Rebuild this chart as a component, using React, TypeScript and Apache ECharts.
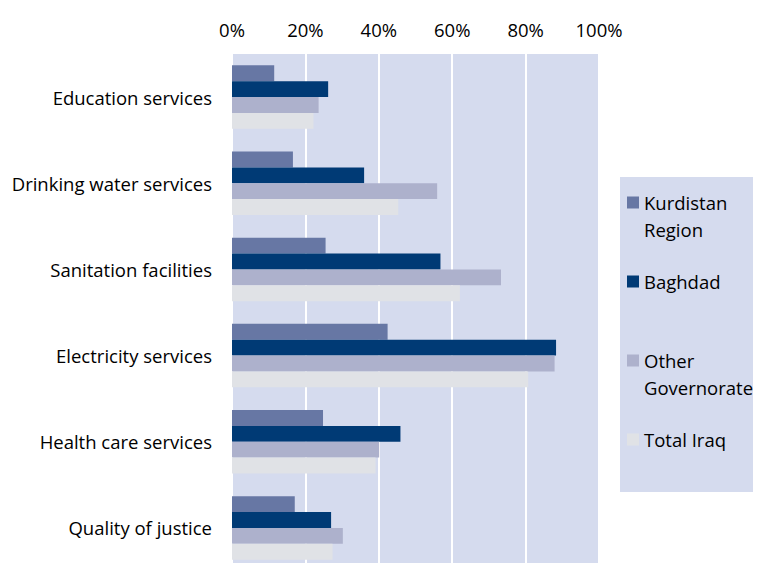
import React, { useEffect, useRef } from "react";
import * as echarts from "echarts";

const categories = [
  "Education services",
  "Drinking water services",
  "Sanitation facilities",
  "Electricity services",
  "Health care services",
  "Quality of justice",
];
const seriesNames = ["Kurdistan Region", "Baghdad", "Other Governorates", "Total Iraq"];
const kurdistan = [11.5, 16.6, 25.5, 42.4, 24.8, 17.1];
const baghdad = [26.2, 36.0, 56.8, 88.3, 45.9, 27.0];
const otherGov = [23.6, 55.9, 73.3, 87.9, 40.1, 30.2];
const totalIraq = [22.2, 45.3, 62.1, 80.7, 39.1, 27.4];
const colors = ["#6777A4", "#003A75", "#ADB1CC", "#E0E2E6"];
const xTicks = [0, 20, 40, 60, 80, 100];

const FONT = "Open Sans";
const FS = 18.5;

export default function App() {
  const ref = useRef<HTMLDivElement>(null);
  useEffect(() => {
    if (!ref.current) return;
    const chart = echarts.init(ref.current, undefined, { renderer: "svg" });
    const values = [kurdistan, baghdad, otherGov, totalIraq];
    chart.setOption({
      animation: false,
      textStyle: { fontFamily: FONT },
      grid: {
        left: 232,
        right: 162,
        top: 54,
        bottom: -5,
        show: true,
        backgroundColor: "#D5DBEE",
        borderWidth: 0,
      },
      graphic: [
        {
          type: "rect",
          shape: { x: 620, y: 177, width: 160, height: 315 },
          style: { fill: "#D5DBEE" },
          z: -1,
        },
      ],
      legend: {
        orient: "vertical",
        left: 622,
        top: 157,
        itemWidth: 12,
        itemHeight: 12,
        itemGap: 25,
        icon: "rect",
        textStyle: { fontFamily: FONT, fontSize: FS, color: "#000", lineHeight: 27 },
        formatter: (n: string) =>
          n === "Total Iraq" || !n.includes(" ") ? n : "\n" + n.replace(" ", "\n"),
        data: seriesNames,
      },
      xAxis: {
        type: "value",
        position: "top",
        min: xTicks[0],
        max: xTicks[xTicks.length - 1],
        interval: 20,
        axisLine: { show: false },
        axisTick: { show: false },
        axisLabel: {
          formatter: "{value}%",
          fontSize: FS,
          color: "#000",
          fontFamily: FONT,
          margin: 15,
        },
        splitLine: { show: true, lineStyle: { color: "#FFFFFF", width: 2 } },
      },
      yAxis: {
        type: "category",
        data: categories,
        inverse: true,
        axisLine: { show: false },
        axisTick: { show: false },
        axisLabel: { fontSize: FS, color: "#000", fontFamily: FONT, margin: 20 },
      },
      series: seriesNames.map((n, i) => ({
        name: n,
        type: "bar",
        data: values[i],
        barGap: "0%",
        barCategoryGap: "26.4%",
        itemStyle: { color: colors[i] },
      })),
    });
    return () => chart.dispose();
  }, []);
  return <div ref={ref} style={{ width: 761, height: 571, margin: -8 }} />;
}
